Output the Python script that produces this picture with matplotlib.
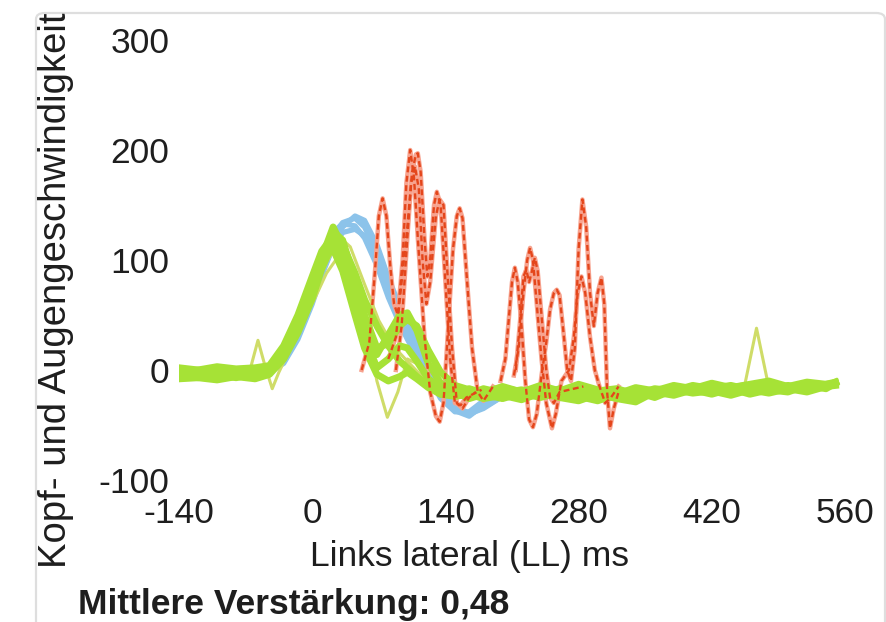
import matplotlib
matplotlib.use("Agg")
import matplotlib.pyplot as plt
from matplotlib.patches import FancyBboxPatch

plt.rcParams['font.family'] = ['Liberation Sans', 'DejaVu Sans']
plt.rcParams['axes.unicode_minus'] = False

# ---------------- data ----------------
x_ticks = [-140, 0, 140, 280, 420, 560]
y_ticks = [-100, 0, 100, 200, 300]
x_label = "Links lateral (LL) ms"
y_label = "Kopf- und Augengeschwindigkeit"
gain_text = "Mittlere Verstärkung: 0,48"

t_main = [-140, -120, -100, -80, -60, -45, -30, -15, 0, 10, 22, 32, 45, 55, 68, 80, 92, 100,
          110, 122, 135, 150, 165, 180, 200, 220, 240, 260, 280, 300, 320, 340, 360, 380,
          400, 420, 440, 460, 480, 500, 520, 540, 550]

# head velocity (blue)
head_1 = [-2, -3, -2, -3, -2, 0, 12, 38, 72, 98, 122, 134, 138, 130, 106, 75, 50, 36,
          20, 0, -22, -37, -42, -32, -22, -18, -20, -17, -19, -21, -20, -22, -19, -17,
          -18, -16, -18, -17, -18, -15, -16, -14, -13]
head_2 = [0, -1, 0, -2, 0, 3, 18, 45, 80, 104, 125, 133, 131, 120, 95, 66, 42, 28,
          12, -6, -26, -38, -38, -28, -20, -19, -21, -18, -20, -22, -19, -21, -20, -18,
          -17, -18, -16, -18, -16, -17, -15, -15, -14]
head_3 = [-3, -2, -4, -2, -3, -1, 8, 32, 62, 88, 112, 125, 128, 122, 100, 72, 48, 34,
          18, 2, -18, -33, -40, -34, -24, -20, -22, -19, -21, -23, -21, -23, -20, -18,
          -19, -17, -19, -16, -17, -16, -17, -15, -14]
head_4 = [-1, -2, -1, -3, -1, -2, 6, 28, 60, 86, 112, 130, 140, 136, 114, 84, 58, 42,
          26, 6, -16, -32, -40, -35, -24, -19, -21, -18, -20, -22, -20, -22, -19, -18,
          -18, -17, -17, -17, -17, -15, -16, -14, -13]

# eye velocity (green)
eye_1 = [-3, -4, -2, -5, -3, 0, 16, 42, 75, 102, 130, 112, 72, 42, 14, 32, 50, 52,
         36, 6, -12, -18, -22, -17, -21, -18, -23, -17, -21, -24, -20, -25, -21, -16,
         -19, -15, -20, -16, -19, -14, -18, -13, -12]
eye_2 = [2, 0, 3, 1, 2, 4, 22, 50, 85, 108, 122, 100, 60, 30, 2, 10, 22, 20,
         8, -8, -16, -23, -17, -21, -15, -20, -14, -19, -13, -18, -22, -16, -19, -14,
         -17, -12, -16, -13, -10, -15, -11, -13, -11]
eye_3 = [-8, -7, -9, -6, -8, -4, 10, 34, 65, 92, 116, 114, 88, 64, 40, 22, 8, 2,
         -6, -14, -22, -24, -22, -26, -23, -27, -21, -25, -28, -22, -26, -29, -20, -23,
         -18, -22, -17, -22, -18, -20, -14, -17, -12]
eye_4 = [-2, 0, -3, -1, -4, -1, 13, 38, 70, 96, 126, 118, 80, 50, 20, 24, 40, 46,
         40, 18, -2, -14, -18, -20, -16, -20, -16, -21, -16, -19, -17, -22, -17, -19,
         -14, -17, -14, -18, -13, -16, -12, -15, -11]
eye_5 = [-5, -7, -4, -7, -3, 2, 20, 46, 80, 100, 110, 90, 50, 20, -4, -10, -6, -2,
         -8, -16, -22, -20, -26, -22, -26, -21, -25, -20, -24, -28, -22, -20, -25, -18,
         -21, -19, -23, -18, -21, -17, -20, -15, -14]

# eye traces drawn in olive
olive_1_t = [-140, -80, -66, -57, -50, -42, -35, -20, 0, 15, 28, 38, 48, 58, 68, 79, 90,
             100, 112, 125, 140, 160, 200, 260, 320, 400, 480, 550]
olive_1 = [-3, -3, -2, 27, 5, -17, -2, 25, 60, 88, 104, 106, 80, 35, -10, -43, -20,
           10, 5, -15, -22, -20, -22, -18, -22, -18, -16, -14]
olive_2_t = [-140, -45, -30, -15, 0, 15, 30, 40, 55, 70, 85, 100, 120, 140, 170, 220, 300,
             400, 440, 455, 467, 479, 490, 520, 550]
olive_2 = [-2, 0, 12, 36, 68, 98, 120, 112, 78, 45, 22, 8, -10, -20, -22, -20, -22,
           -17, -15, -12, 38, -12, -16, -13, -12]

# saccades (red)
sac_1_t = [52, 60, 66, 70, 74, 78, 82, 86, 90, 95, 99, 103, 107, 111, 118, 124, 130, 134,
           138, 143, 148, 152, 155, 158, 162, 168, 174, 180, 190]
sac_1 = [0, 25, 90, 140, 156, 140, 95, 60, 50, 100, 170, 200, 175, 120, 30, -20, -42, -47,
         -30, 40, 110, 140, 147, 138, 90, 20, -20, -28, -15]
sac_2_t = [80, 88, 94, 100, 105, 109, 111, 114, 118, 121, 124, 128, 131, 135, 140, 145,
           150, 156, 162, 178]
sac_2 = [10, 30, 80, 130, 180, 196, 197, 180, 120, 85, 100, 150, 162, 150, 80, 10,
         -30, -32, -25, -18]
sac_3_t = [88, 94, 100, 104, 108, 112, 116, 120, 124, 130, 134, 138, 142, 147, 152, 158,
           165, 172]
sac_3 = [0, 40, 120, 170, 185, 165, 100, 60, 80, 140, 155, 150, 90, 20, -30, -35,
         -25, -20]
sac_4_t = [198, 203, 207, 210, 213, 216, 220, 224, 228, 232, 236, 241, 246, 250, 254, 257,
           260, 264, 268, 272, 276, 280, 284, 288, 292, 296, 300, 304, 307, 310, 313, 317,
           322]
sac_4 = [-10, 10, 50, 80, 93, 80, 40, -10, -45, -52, -40, -5, 25, 55, 70, 73,
         68, 35, 0, -10, 20, 110, 155, 130, 70, 40, 70, 84, 60, -20, -53, -35,
         -20]
sac_5_t = [212, 217, 222, 226, 229, 232, 236, 241, 246, 252, 256, 262, 270, 275, 279, 283,
           287, 292, 297, 302, 308, 314, 322]
sac_5 = [-5, 20, 70, 100, 111, 100, 60, 10, -30, -53, -40, -10, 0, 30, 70, 85,
         70, 30, 0, -15, -30, -25, -15]
sac_6_t = [214, 219, 222, 225, 228, 231, 234, 237, 241, 246, 250, 254, 260, 270, 285]
sac_6 = [0, 50, 85, 91, 80, 90, 102, 90, 50, 0, -25, -30, -20, -18, -15]

# ---------------- figure ----------------
W, H = 886, 622
fig = plt.figure(figsize=(W / 100, H / 100), dpi=100)
fig.patch.set_facecolor('white')

# panel frame
frame = FancyBboxPatch((36 / W, -0.2), (885 - 36) / W, (622 - 13) / H + 0.2,
                       boxstyle="round,pad=0,rounding_size=0.01",
                       transform=fig.transFigure, facecolor='none',
                       edgecolor='#DEDEDE', linewidth=1.6, zorder=0)
fig.patches.append(frame)

ax = fig.add_axes([179 / W, (H - 480) / H, (845 - 179) / W, (480 - 40) / H])
ax.set_facecolor('none')
ax.set_xlim(-140, 560)
ax.set_ylim(-100, 300)

BLUE = '#8CC3EA'
GREEN = '#A6E236'
OLIVE = '#CFDC68'
PINK = '#F7A38F'
RED = '#E4461B'

for h in [head_1, head_2, head_3, head_4]:
    ax.plot(t_main, h, color=BLUE, lw=3.8, solid_joinstyle='round', zorder=2)

sacs = [(sac_1_t, sac_1), (sac_2_t, sac_2), (sac_3_t, sac_3),
        (sac_4_t, sac_4), (sac_5_t, sac_5), (sac_6_t, sac_6)]
for st, sv in sacs:
    ax.plot(st, sv, color=PINK, lw=3.2, solid_joinstyle='round', zorder=3)

ax.plot(olive_1_t, olive_1, color=OLIVE, lw=2.2, zorder=3.5)
ax.plot(olive_2_t, olive_2, color=OLIVE, lw=2.2, zorder=3.5)

for e in [eye_1, eye_2, eye_3, eye_4, eye_5]:
    ax.plot(t_main, e, color=GREEN, lw=5.0, solid_joinstyle='round', zorder=4)

for st, sv in sacs:
    ax.plot(st, sv, color=RED, lw=1.7, linestyle=(0, (2.5, 1.5)), zorder=5)

TXT = '#1E1E1E'
ax.set_xticks(x_ticks)
ax.set_yticks(y_ticks)
ax.set_xticklabels([str(v) for v in x_ticks])
ax.set_yticklabels([str(v) for v in y_ticks])
ax.tick_params(axis='both', length=0, labelsize=25.5, colors=TXT)
ax.tick_params(axis='x', pad=12)
ax.tick_params(axis='y', pad=7)
for s in ax.spines.values():
    s.set_visible(False)

fig.text(470 / W, (H - 566) / H, x_label, ha='center', va='baseline',
         fontsize=25.5, color=TXT)
fig.text(56 / W, (H - 290) / H, y_label, ha='center', va='center', rotation=90,
         fontsize=27.5, color=TXT)
fig.text(78 / W, 8 / H, gain_text, ha='left', va='baseline',
         fontsize=25.5, fontweight='bold', color=TXT)

fig.savefig('out.png', dpi=100, facecolor='white')
